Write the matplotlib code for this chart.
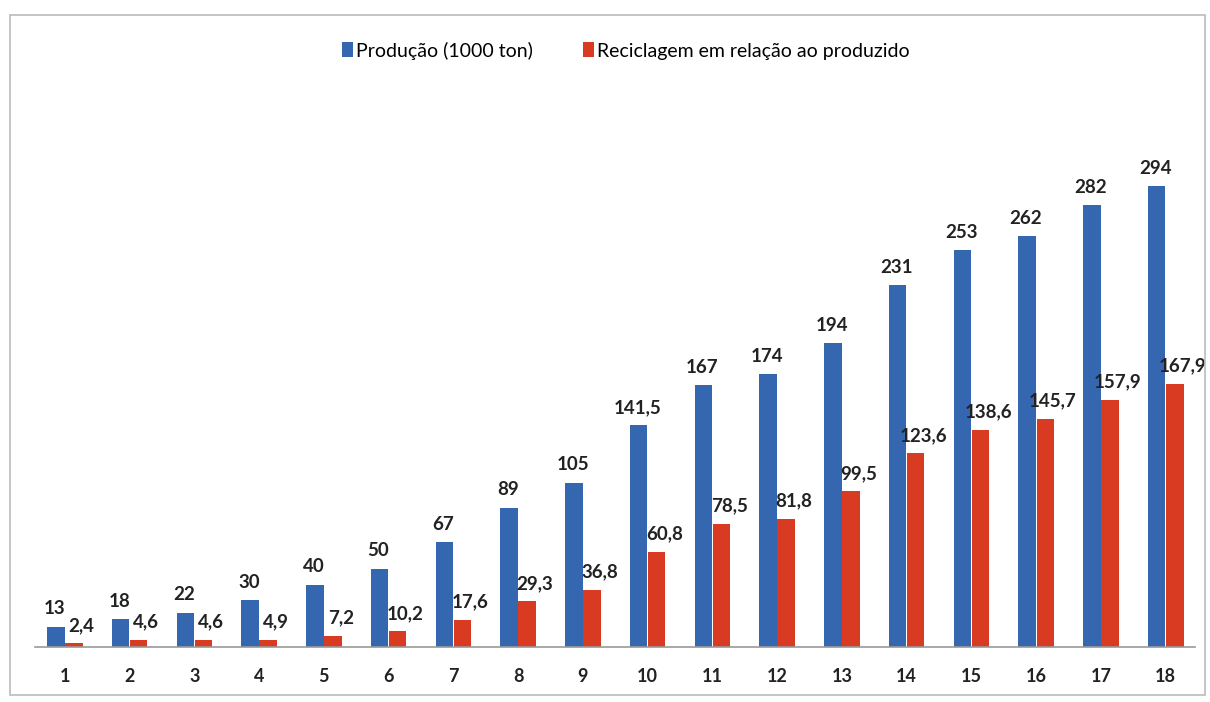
import matplotlib
matplotlib.use("Agg")
import matplotlib.pyplot as plt
from matplotlib.patches import Rectangle
import numpy as np

plt.rcParams['font.family'] = ['Lato', 'DejaVu Sans']

anos = list(range(1, 19))
producao = [13, 18, 22, 30, 40, 50, 67, 89, 105, 141.5, 167, 174, 194, 231, 253, 262, 282, 294]
reciclagem = [2.4, 4.6, 4.6, 4.9, 7.2, 10.2, 17.6, 29.3, 36.8, 60.8, 78.5, 81.8, 99.5, 123.6, 138.6, 145.7, 157.9, 167.9]

azul = "#3566b0"
vermelho = "#d93a22"


def fmt(v):
    # rótulos com vírgula decimal
    if float(v).is_integer():
        return str(int(v))
    return f"{v:.1f}".replace(".", ",")


fig = plt.figure(figsize=(12.1, 7.02), dpi=100)
ax = fig.add_axes([0.029, 0.078, 0.959, 0.715])

x = np.array(anos)
w = 0.27
b1 = ax.bar(x - 0.14, producao, w, color=azul, label="Produção (1000 ton)")
b2 = ax.bar(x + 0.14, reciclagem, w, color=vermelho, label="Reciclagem em relação ao produzido")

for xi, v in zip(x, producao):
    ax.text(xi - 0.16, v + 6, fmt(v), ha="center", va="bottom", fontsize=13.5,
            fontweight="bold", color="#222222")
for xi, v in zip(x, reciclagem):
    ax.text(xi + 0.26, v + 6, fmt(v), ha="center", va="bottom", fontsize=13.5,
            fontweight="bold", color="#222222")

ax.set_xlim(0.54, 18.46)
ax.set_ylim(0, 320)
ax.set_xticks(x)
ax.set_xticklabels([str(a) for a in anos], fontsize=13, fontweight="bold", color="#222222")
ax.tick_params(axis="x", length=0, pad=15)
ax.set_yticks([])
for s in ["top", "right", "left"]:
    ax.spines[s].set_visible(False)
ax.spines["bottom"].set_color("#999999")
ax.spines["bottom"].set_linewidth(1.2)

fig.legend(handles=[b1, b2], loc="center", bbox_to_anchor=(0.517, 0.928), ncol=2,
           frameon=False, fontsize=14, handlelength=0.55, handleheight=0.8,
           handletextpad=0.15, columnspacing=2.6)

# moldura do gráfico
fig.patches.append(Rectangle((0.008, 0.01), 0.988, 0.969, transform=fig.transFigure,
                             fill=False, edgecolor="#bbbbbb", linewidth=1.2))

plt.savefig("out.png", dpi=100)
